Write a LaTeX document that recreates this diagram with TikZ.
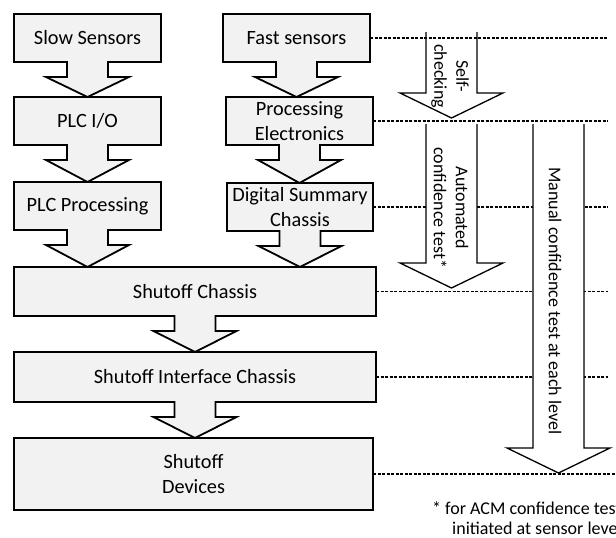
\documentclass[tikz,border=0pt]{standalone}
\usepackage{fontspec}
\setmainfont{Carlito}
\usetikzlibrary{calc,backgrounds}
\definecolor{boxgray}{HTML}{F2F2F2}

\begin{document}
\begin{tikzpicture}[x=1pt,y=-1pt,
  level/.style={inner sep=0pt,outer sep=0pt,align=center,font=\fontsize{20.3}{25}\selectfont},
  note/.style={inner sep=0pt,align=center,font=\fontsize{18}{22}\selectfont},
  stage/.style={draw=black,line width=1.8pt,fill=boxgray,
    to path={(\tikztostart.south west) -- (\tikztostart.north west) -- (\tikztostart.north east) -- (\tikztostart.south east)
      -- ($(\tikztostart.south)+(20.5,0)$) -- ($(\tikztostart.south)+(20.5,15)$) -- ($(\tikztostart.south)+(41.5,15)$)
      -- (\tikztostart.south |- \tikztotarget.north)
      -- ($(\tikztostart.south)+(-41.5,15)$) -- ($(\tikztostart.south)+(-20.5,15)$) -- ($(\tikztostart.south)+(-20.5,0)$) -- cycle}},
  hollow/.style={draw=black,line width=1.3pt,fill=white,
    to path={++(-25.5,0) -- ($(\tikztotarget)+(-25.5,-25)$) -- ($(\tikztotarget)+(-51.5,-25)$) -- (\tikztotarget)
      -- ($(\tikztotarget)+(51.5,-25)$) -- ($(\tikztotarget)+(25.5,-25)$) -- ($(\tikztostart)+(25.5,0)$)}},
  levelline/.style={line width=1.2pt,dash pattern=on 3pt off 1.5pt}]
  \clip (0,0) rectangle (616,538);

  % left column
  \node[level,minimum width=147,minimum height=48] (slow) at (87.5,38) {Slow Sensors};
  \node[level,minimum width=147,minimum height=48] (plcio) at (87.5,121) {PLC I/O};
  \node[level,minimum width=147,minimum height=48] (plcproc) at (87.5,206) {PLC Processing};
  % right column
  \node[level,minimum width=147,minimum height=48] (fast) at (296.5,38) {Fast sensors};
  \node[level,minimum width=147,minimum height=48] (procel) at (299.5,121) {Processing\\Electronics};
  \node[level,minimum width=146,minimum height=48] (digsum) at (300,207) {Digital Summary\\Chassis};
  % common chain
  \node[level,minimum width=362,minimum height=49] (shutch) at (195,291.5) {Shutoff Chassis};
  \node[level,minimum width=362,minimum height=50] (shutif) at (195,377) {Shutoff Interface Chassis};
  \node[level,draw,line width=1.8pt,fill=boxgray,minimum width=359,minimum height=72] (shutdev) at (193.5,474) {Shutoff\\Devices};

  \begin{scope}[on background layer]
    \draw[stage] (slow) to (plcio);
    \draw[stage] (plcio) to (plcproc);
    \draw[stage] (plcproc) to (shutch);
    \draw[stage] (fast) to (procel);
    \draw[stage] (procel) to (digsum);
    \draw[stage] (digsum) to (shutch);
    \draw[stage] (shutch) to (shutif);
    \draw[stage] (shutif) to (shutdev);
  \end{scope}

  % level lines
  \coordinate (rim) at (608,0);
  \coordinate (rimlow) at (616,0);
  \foreach \lvl in {fast,procel,digsum,shutch,shutif}
    \draw[levelline] (\lvl.east) -- (\lvl.east -| rim);
  \draw[levelline] (shutdev.east) -- (shutdev.east -| rimlow);

  % test arrows
  \coordinate (selftop) at (451.5,32);
  \coordinate (selftip) at (451.5,118);
  \coordinate (autotop) at (451.5,124);
  \coordinate (autotip) at (451.5,288);
  \coordinate (mantop) at (558.5,124);
  \coordinate (mantip) at (558.5,473);
  \draw[hollow,fill=none] (selftop) to (selftip);
  \draw[hollow] (autotop) to (autotip);
  \draw[hollow] (mantop) to (mantip);

  \node[note,rotate=-90] (selflbl) at (450,76) {Self-\\checking};
  \node[note,rotate=-90] (autolbl) at (451,208) {Automated\\confidence test*};
  \node[note,rotate=-90] (manlbl) at (555,301) {Manual confidence test at each level};
  \node[note,align=left,anchor=west,font=\fontsize{18}{19.5}\selectfont] (foot) at (432,518) {* for ACM confidence test\\\hspace*{20pt}initiated at sensor level};
\end{tikzpicture}
\end{document}
